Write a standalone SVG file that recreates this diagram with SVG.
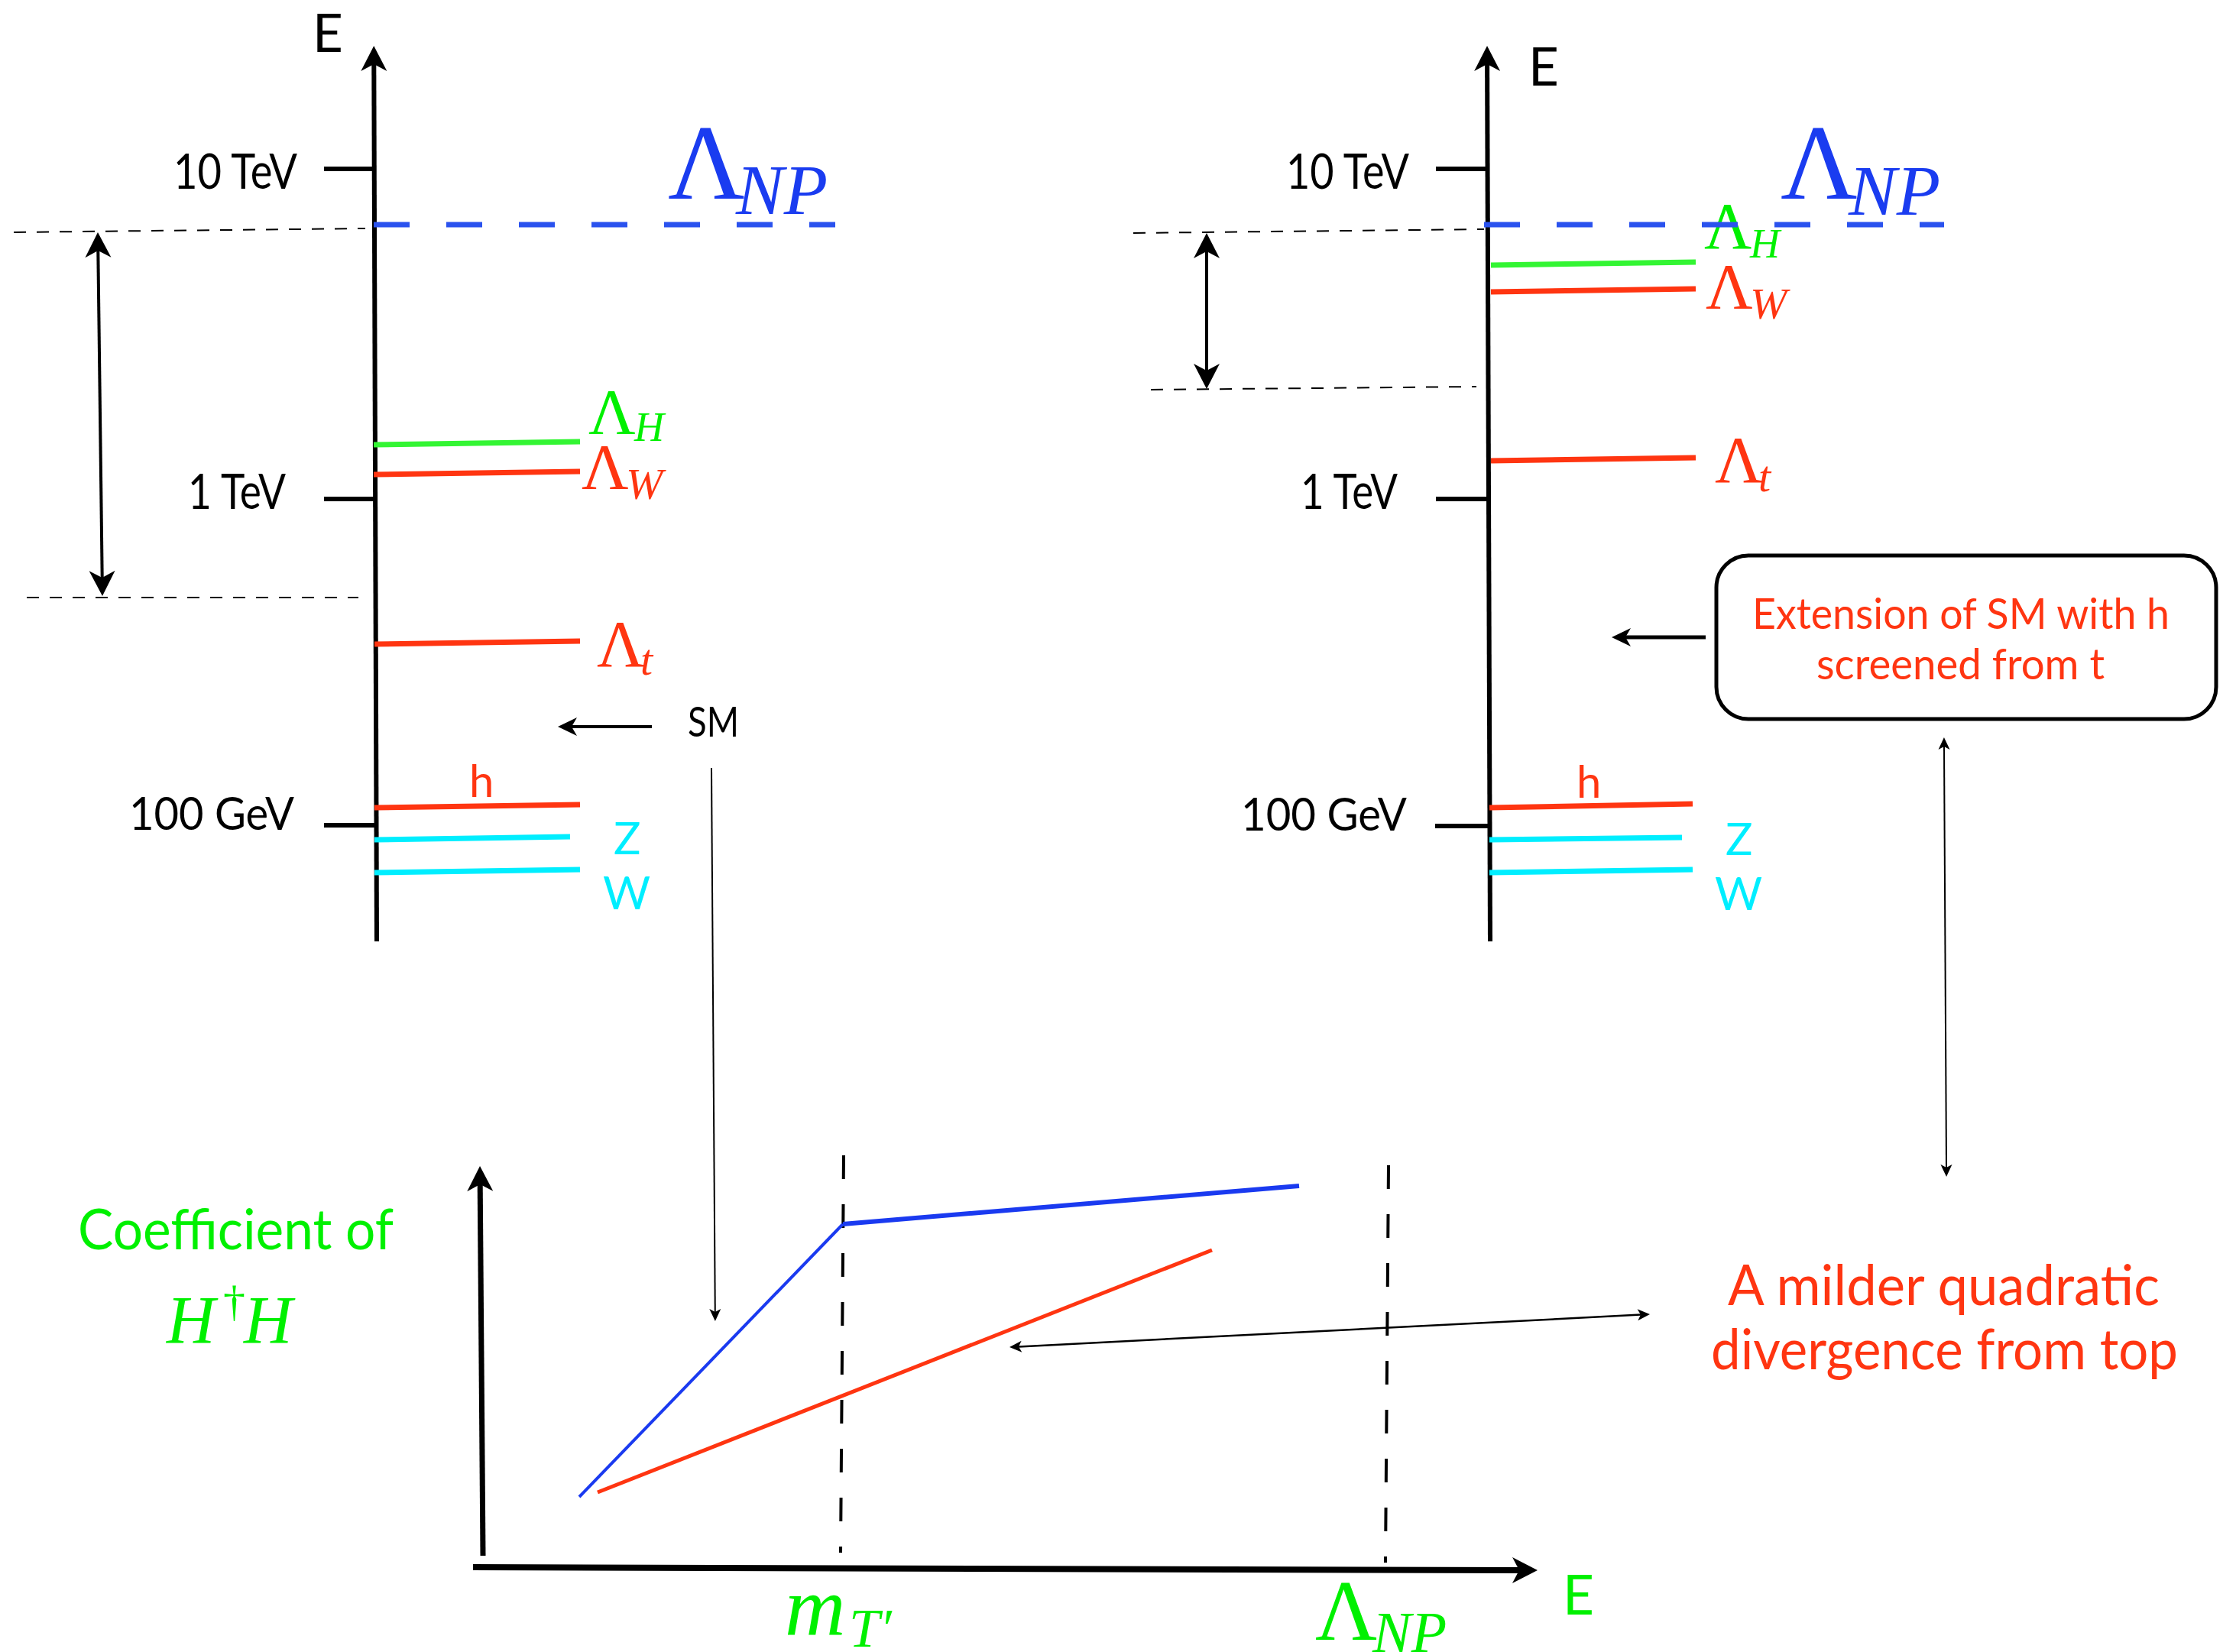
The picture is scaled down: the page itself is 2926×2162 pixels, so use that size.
<svg xmlns="http://www.w3.org/2000/svg" width="2926" height="2162" viewBox="0 0 2926 2162">
<defs>
<style>
.ax{stroke:#000;stroke-width:6;fill:none}
.tick{stroke:#000;stroke-width:6}
.lv{stroke-width:7;fill:none}
.g{stroke:#33F533}
.r{stroke:#FF3511}
.c{stroke:#00EEFF}
.np{stroke:#2A52EE;stroke-width:7;stroke-dasharray:47 48}
.thin{stroke:#000;stroke-width:2;stroke-dasharray:16 14}
.sans{font-family:Lato,"Open Sans","Liberation Sans",sans-serif}
.serif{font-family:"Liberation Serif","DejaVu Serif",serif}
.it{font-style:italic}
.blk{fill:#000}
.red{fill:#FF3511}
.grn{fill:#00F000}
.cyn{fill:#00EEFF}
.blu{fill:#1A3CF0}
</style>
<marker id="ahBig" markerUnits="userSpaceOnUse" viewBox="-34 -18 36 36" markerWidth="36" markerHeight="36" refX="-24" refY="0" orient="auto-start-reverse">
<path d="M0,0 L-33,-17 L-24,0 L-33,17 Z" fill="#000"/>
</marker>
<marker id="ahMed" markerUnits="userSpaceOnUse" viewBox="-26 -13 28 26" markerWidth="28" markerHeight="26" refX="-18" refY="0" orient="auto-start-reverse">
<path d="M0,0 L-25,-12 L-18,0 L-25,12 Z" fill="#000"/>
</marker>
<marker id="ahSm" markerUnits="userSpaceOnUse" viewBox="-18 -9 20 18" markerWidth="20" markerHeight="18" refX="-12" refY="0" orient="auto-start-reverse">
<path d="M0,0 L-16,-7.5 L-12,0 L-16,7.5 Z" fill="#000"/>
</marker>
</defs>
<rect width="2926" height="2162" fill="#fff"/>

<!-- Left panel -->
<g id="left-panel">
<line class="ax" x1="493" y1="1232" x2="489.3" y2="84" marker-end="url(#ahBig)"/>
<text class="sans blk" x="409" y="68" font-size="69">E</text>
<line class="tick" x1="424" y1="221" x2="489" y2="221"/>
<line class="tick" x1="424" y1="653" x2="491" y2="653"/>
<line class="tick" x1="424" y1="1080" x2="492" y2="1080"/>
<text class="sans blk" x="227" y="247" font-size="63" textLength="162" lengthAdjust="spacingAndGlyphs">10 TeV</text>
<text class="sans blk" x="246" y="666" font-size="63" textLength="128" lengthAdjust="spacingAndGlyphs">1 TeV</text>
<text class="sans blk" x="169" y="1086" font-size="60" textLength="216" lengthAdjust="spacingAndGlyphs">100 GeV</text>
<line class="lv g" x1="489" y1="582" x2="759" y2="578"/>
<line class="lv r" x1="489" y1="621" x2="759" y2="617"/>
<line class="lv r" x1="490" y1="843" x2="759" y2="839"/>
<line class="lv r" x1="490" y1="1057" x2="759" y2="1053"/>
<line class="lv c" x1="490" y1="1099" x2="746" y2="1095"/>
<line class="lv c" x1="490" y1="1142" x2="759" y2="1138"/>
<text class="serif grn" x="770" y="568" font-size="85">Λ</text>
<text class="serif it grn" x="830" y="577" font-size="54">H</text>
<text class="serif red" x="761" y="640" font-size="85">Λ</text>
<text class="serif it red" x="819" y="653" font-size="58">W</text>
<text class="serif red" x="781" y="872" font-size="86">Λ</text>
<text class="serif it red" x="838" y="883" font-size="58">t</text>
<text class="sans red" x="614" y="1043" font-size="58">h</text>
<text class="sans cyn" x="803" y="1118" font-size="59">Z</text>
<text class="sans cyn" x="789" y="1190" font-size="60">W</text>
<text class="sans blk" x="900" y="964" font-size="54" textLength="67" lengthAdjust="spacingAndGlyphs">SM</text>
<text class="serif blu" x="874" y="260" font-size="139">Λ</text>
<text class="serif it blu" x="963" y="280" font-size="94">NP</text>
<line class="np" x1="489" y1="294" x2="1093" y2="294"/>
<line class="thin" x1="18" y1="304" x2="478" y2="299"/>
<line class="thin" x1="35" y1="782" x2="469" y2="782"/>
</g>

<!-- Right panel -->
<g id="right-panel">
<line class="ax" x1="1950" y1="1232" x2="1946.1" y2="84" marker-end="url(#ahBig)"/>
<text class="sans blk" x="2000" y="112" font-size="69">E</text>
<line class="tick" x1="1879" y1="221" x2="1946" y2="221"/>
<line class="tick" x1="1879" y1="653" x2="1948" y2="653"/>
<line class="tick" x1="1878" y1="1081" x2="1949" y2="1081"/>
<text class="sans blk" x="1683" y="247" font-size="63" textLength="161" lengthAdjust="spacingAndGlyphs">10 TeV</text>
<text class="sans blk" x="1702" y="666" font-size="63" textLength="127" lengthAdjust="spacingAndGlyphs">1 TeV</text>
<text class="sans blk" x="1624" y="1087" font-size="60" textLength="217" lengthAdjust="spacingAndGlyphs">100 GeV</text>
<line class="lv g" x1="1951" y1="347" x2="2219" y2="343"/>
<line class="lv r" x1="1951" y1="382" x2="2219" y2="378"/>
<line class="lv r" x1="1951" y1="603" x2="2219" y2="599"/>
<line class="lv r" x1="1949" y1="1057" x2="2215" y2="1052"/>
<line class="lv c" x1="1949" y1="1099" x2="2201" y2="1096"/>
<line class="lv c" x1="1949" y1="1142" x2="2215" y2="1138"/>
<text class="serif grn" x="2230" y="325" font-size="86">Λ</text>
<text class="serif it grn" x="2290" y="337" font-size="54">H</text>
<text class="serif red" x="2232" y="404" font-size="85">Λ</text>
<text class="serif it red" x="2290" y="417" font-size="58">W</text>
<text class="serif red" x="2244" y="631" font-size="86">Λ</text>
<text class="serif it red" x="2301" y="643" font-size="58">t</text>
<text class="sans red" x="2063" y="1044" font-size="58">h</text>
<text class="sans cyn" x="2258" y="1119" font-size="59">Z</text>
<text class="sans cyn" x="2244" y="1191" font-size="60">W</text>
<text class="serif blu" x="2330" y="260" font-size="139">Λ</text>
<text class="serif it blu" x="2419" y="281" font-size="94">NP</text>
<line class="np" x1="1942" y1="294" x2="2544" y2="294"/>
<line class="thin" x1="1483" y1="305" x2="1942" y2="300"/>
<line class="thin" x1="1506" y1="510" x2="1932" y2="506"/>
</g>

<!-- Box node -->
<g id="box-extension">
<rect x="2246" y="727" width="654" height="214" rx="42" ry="42" fill="#fff" stroke="#000" stroke-width="5"/>
<text class="sans red" x="2293" y="823" font-size="57" textLength="546" lengthAdjust="spacingAndGlyphs">Extension of SM with h</text>
<text class="sans red" x="2377" y="889" font-size="57" textLength="377" lengthAdjust="spacingAndGlyphs">screened from t</text>
</g>

<!-- Annotation text -->
<g id="milder-text">
<text class="sans red" x="2261" y="1708" font-size="74" textLength="565" lengthAdjust="spacingAndGlyphs">A milder quadratic</text>
<text class="sans red" x="2239" y="1792" font-size="74" textLength="611" lengthAdjust="spacingAndGlyphs">divergence from top</text>
</g>

<!-- Chart -->
<g id="chart">
<line x1="632" y1="2036" x2="628.2" y2="1550" stroke="#000" stroke-width="7" marker-end="url(#ahBig)"/>
<line x1="619" y1="2051" x2="1988" y2="2055" stroke="#000" stroke-width="8" marker-end="url(#ahBig)"/>
<line x1="1104" y1="1512" x2="1100" y2="2032" stroke="#000" stroke-width="4" stroke-dasharray="31 33"/>
<line x1="1817" y1="1525" x2="1813" y2="2045" stroke="#000" stroke-width="4" stroke-dasharray="31 33"/>
<line x1="758" y1="1959" x2="1103" y2="1602" stroke="#1A3AF0" stroke-width="4"/>
<line x1="1103" y1="1602" x2="1700" y2="1552" stroke="#1A3AF0" stroke-width="6"/>
<line x1="782" y1="1953" x2="1586" y2="1636" stroke="#FF3511" stroke-width="5"/>
<text class="sans grn" x="102" y="1635" font-size="73" textLength="413" lengthAdjust="spacingAndGlyphs">Coefficient of</text>
<text class="serif it grn" x="218" y="1757" font-size="88">H</text>
<text class="serif grn" x="292" y="1722" font-size="58">†</text>
<text class="serif it grn" x="319" y="1757" font-size="88">H</text>
<text class="serif it grn" x="1027" y="2140" font-size="110">m</text>
<text class="serif it grn" x="1111" y="2155" font-size="72">T′</text>
<text class="serif grn" x="1721" y="2146" font-size="112">Λ</text>
<text class="serif it grn" x="1796" y="2162" font-size="76">NP</text>
<text class="sans grn" x="2045" y="2113" font-size="71">E</text>
</g>

<!-- Connectors -->
<g id="connectors" stroke="#000" fill="none">
<line x1="128.3" y1="328" x2="133.7" y2="756" stroke-width="4" marker-start="url(#ahBig)" marker-end="url(#ahBig)"/>
<line x1="1579" y1="329" x2="1579" y2="485" stroke-width="4" marker-start="url(#ahBig)" marker-end="url(#ahBig)"/>
<line x1="853" y1="951" x2="748" y2="951" stroke-width="4" marker-end="url(#ahMed)"/>
<line x1="2232" y1="834" x2="2127" y2="834" stroke-width="5" marker-end="url(#ahMed)"/>
<line x1="931" y1="1005" x2="935.8" y2="1717" stroke-width="2" marker-end="url(#ahSm)"/>
<line x1="2544" y1="977" x2="2547" y2="1528" stroke-width="2" marker-start="url(#ahSm)" marker-end="url(#ahSm)"/>
<line x1="2147" y1="1720.6" x2="1333" y2="1762.4" stroke-width="2.5" marker-start="url(#ahSm)" marker-end="url(#ahSm)"/>
</g>
</svg>
